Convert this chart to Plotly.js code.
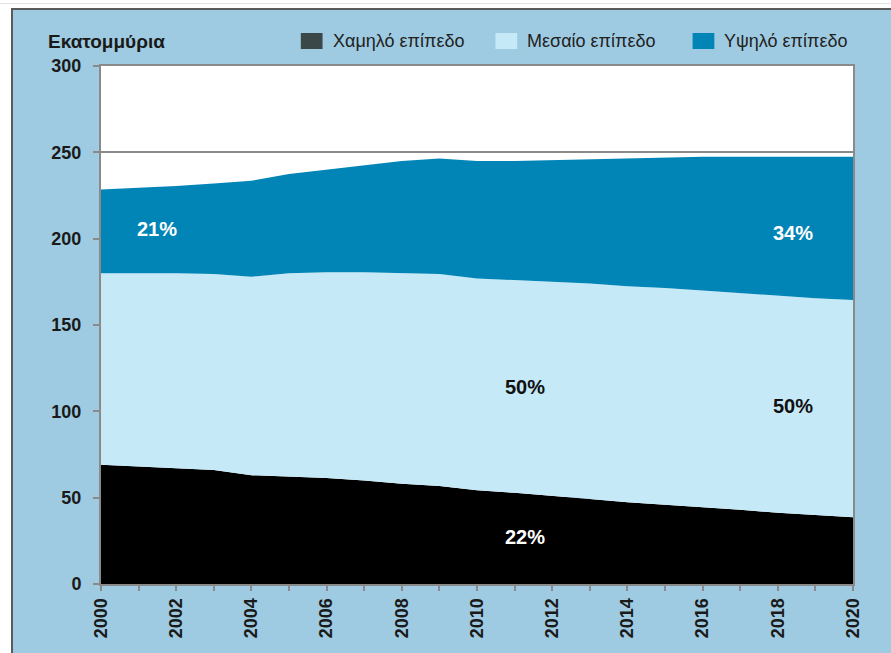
<!DOCTYPE html>
<html>
<head>
<meta charset="utf-8">
<script src="https://cdn.plot.ly/plotly-3.0.1.min.js"></script>
<style>
  html, body { margin: 0; padding: 0; background: #ffffff; width: 891px; height: 653px; overflow: hidden; }
  #topline { position: absolute; left: 0; top: 3px; width: 891px; height: 1px; background: #e2e2e2; }
  #frame { position: absolute; left: 11px; top: 8px; width: 880px; height: 645px;
           border-left: 2px solid #5a5a5a; border-top: 2px solid #5a5a5a; box-sizing: border-box; }
  #chart { position: absolute; left: 13px; top: 10px; width: 878px; height: 643px; }
</style>
</head>
<body>
<div id="topline"></div>
<div id="frame"></div>
<div id="chart"></div>
<script>
// ---- data (millions) ----
const years = [2000,2001,2002,2003,2004,2005,2006,2007,2008,2009,2010,2011,2012,2013,2014,2015,2016,2017,2018,2019,2020];
const lowLevel  = [69,68,66.8,66,63,62.2,61.4,60,58,56.8,54.3,52.8,50.8,49.2,47.3,46,44.6,43,41.2,40,38.7];
const midLevel  = [111,112,113.2,113.5,115,117.8,119.1,120.5,122,122.7,122.7,123.2,124.2,124.8,125.2,125.5,125.4,125.5,125.8,125.5,125.8];
const highLevel = [48.5,49.5,50.5,52.5,55.5,57.5,59.5,62,65,67,68,69,70.5,72,74,75.5,77.5,79,80.5,82,83];
const seriesNames = ["Χαμηλό επίπεδο", "Μεσαίο επίπεδο", "Υψηλό επίπεδο"];
const yTicks = [0,50,100,150,200,250,300];
const xTicks = [2000,2002,2004,2006,2008,2010,2012,2014,2016,2018,2020];
const shareLabels = ["21%", "50%", "50%", "22%", "34%"];

const fillColors = ["#000000", "#c6e9f8", "#0085b6"];
const legendColors = ["#3a4848", "#c6e9f8", "#0085b6"];
const seriesVals = [lowLevel, midLevel, highLevel];

const traces = seriesVals.map((v, i) => ({
  x: years, y: v, name: seriesNames[i], type: 'scatter', mode: 'lines',
  stackgroup: 'one', line: {width: 0, shape: 'linear'}, fillcolor: fillColors[i],
  hoverinfo: 'x+y+name', showlegend: false
}));

const FAM = 'Liberation Sans, Arial, sans-serif';
const yFont = {family: FAM, size: 18, color: '#1a1a1a', weight: 'bold'};
const xFont = {family: FAM, size: 18, color: '#1a1a1a', weight: 'bold'};
const shareFont = (c) => ({family: FAM, size: 20, color: c, weight: 'bold'});

const annotations = [
  {xref: 'paper', yref: 'paper', x: -0.073, y: 1.047, xanchor: 'left', yanchor: 'middle',
   text: 'Εκατομμύρια', showarrow: false, font: {family: FAM, size: 19, color: '#1a1a1a', weight: 'bold'}},
  // share labels
  {x: 2001.5, y: 205.5, text: shareLabels[0], showarrow: false, font: shareFont('#ffffff')},
  {x: 2011.27, y: 114, text: shareLabels[1], showarrow: false, font: shareFont('#111111')},
  {x: 2018.4, y: 103, text: shareLabels[2], showarrow: false, font: shareFont('#111111')},
  {x: 2011.27, y: 27.2, text: shareLabels[3], showarrow: false, font: shareFont('#ffffff')},
  {x: 2018.4, y: 203.2, text: shareLabels[4], showarrow: false, font: shareFont('#ffffff')}
];

// manual legend
const swX = [0.2657, 0.5245, 0.7867];
const shapes = [];
seriesNames.forEach((n, i) => {
  shapes.push({type: 'rect', xref: 'paper', yref: 'paper', x0: swX[i], x1: swX[i] + 0.0289,
               y0: 1.0328, y1: 1.0637, fillcolor: legendColors[i], line: {width: 0}});
  annotations.push({xref: 'paper', yref: 'paper', x: swX[i] + 0.0395, y: 1.049, xanchor: 'left', yanchor: 'middle',
                    text: n, showarrow: false, font: {family: FAM, size: 18, color: '#222222'}});
});

const layout = {
  width: 878, height: 643,
  margin: {l: 88, r: 38, t: 56, b: 69},
  paper_bgcolor: '#9ecbe1', plot_bgcolor: '#ffffff',
  showlegend: false,
  xaxis: {
    range: [2000, 2020], tickvals: xTicks, ticktext: xTicks.map(String),
    tickangle: -90, ticks: 'outside', ticklen: 5, tickcolor: '#8a8a8a', tickwidth: 1.5,
    minor: {dtick: 1, tick0: 2000, ticks: 'outside', ticklen: 5, tickcolor: '#8a8a8a', tickwidth: 1.5, showgrid: false},
    showline: true, linecolor: '#8a8a8a', linewidth: 2, mirror: true,
    showgrid: false, zeroline: false, tickfont: xFont, fixedrange: true
  },
  yaxis: {
    range: [0, 300], tickvals: yTicks, ticks: 'outside', ticklen: 6, tickcolor: '#8a8a8a', tickwidth: 1.5,
    showline: true, linecolor: '#8a8a8a', linewidth: 2, mirror: true,
    showgrid: true, gridcolor: '#8a8a8a', gridwidth: 1.5, zeroline: false,
    tickfont: yFont, ticklabelstandoff: 8, fixedrange: true
  },
  annotations: annotations,
  shapes: shapes
};

Plotly.newPlot('chart', traces, layout, {displayModeBar: false});
</script>
</body>
</html>
